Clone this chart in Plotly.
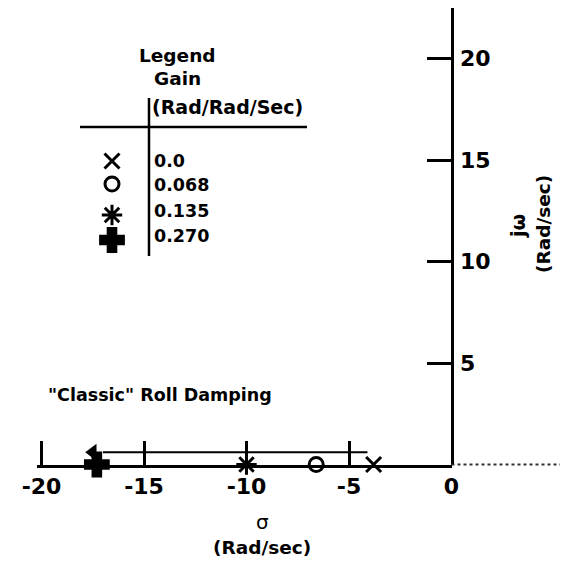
import plotly.graph_objects as go

W, H = 568, 562
OFF = 8  # page body margin of the browser

# ---- data ----
gains = [0.0, 0.068, 0.135, 0.270]
gain_labels = ["0.0", "0.068", "0.135", "0.270"]
root_sigma = [-3.8, -6.6, -10.0, -17.3]
root_jw = [0.0, 0.0, 0.0, 0.0]
root_symbols = ["x-thin-open", "circle-open", "asterisk-open", "cross"]
locus_sigma = [-17.0, -4.1]
locus_jw = [0.6, 0.6]
arrow_sigma = [-17.5]
arrow_jw = [0.6]
x_ticks = [-20, -15, -10, -5, 0]
x_ticktext = ["-20", "-15", "-10", "-5", "0"]
y_ticks = [5, 10, 15, 20]
y_ticktext = ["5", "10", "15", "20"]

FONT = "DejaVu Sans"

# screen-pixel helpers (layout only)
def px(x):
    return (x - OFF) / W

def py(y):
    return 1 - (y - OFF) / H

X0_PX, AX_Y_PX = 451.5, 464.5      # screen position of the origin
SX, SY = 20.5, 20.3                 # pixels per unit

def dx(p):
    return (p - X0_PX) / SX

def dy(p):
    return (AX_Y_PX - p) / SY

fig = go.Figure()

# locus path and arrow
fig.add_trace(go.Scatter(x=locus_sigma, y=locus_jw, mode="lines",
                         line=dict(color="black", width=2), cliponaxis=False,
                         showlegend=False, hoverinfo="skip"))
fig.add_trace(go.Scatter(x=arrow_sigma, y=arrow_jw, mode="markers",
                         marker=dict(symbol="triangle-left", size=15, color="black"),
                         cliponaxis=False, showlegend=False))

marker_sizes = [15, 14, 17, 19]
for s, j, sym, ms in zip(root_sigma, root_jw, root_symbols, marker_sizes):
    fig.add_trace(go.Scatter(
        x=[s], y=[j], mode="markers", cliponaxis=False, showlegend=False,
        marker=dict(symbol=sym, size=ms, color="black",
                    line=dict(color="black", width=3))))

# legend symbols
leg_x = 112
leg_rows_sym = [161, 184, 215, 240]
for sym, yy, ms in zip(root_symbols, leg_rows_sym, marker_sizes):
    fig.add_trace(go.Scatter(
        x=[dx(leg_x)], y=[dy(yy)], mode="markers",
        cliponaxis=False, showlegend=False,
        marker=dict(symbol=sym, size=ms, color="black",
                    line=dict(color="black", width=3))))

x_left_px, y_top_px = 37, OFF
fig.update_layout(
    width=W, height=H, autosize=False,
    margin=dict(l=0, r=0, t=0, b=0),
    paper_bgcolor="white", plot_bgcolor="white",
    font=dict(family=FONT, color="black"),
    xaxis=dict(
        domain=[px(x_left_px), px(X0_PX)],
        range=[dx(x_left_px), 0],
        anchor="y", automargin=False,
        showline=True, linecolor="black", linewidth=3,
        ticks="inside", ticklen=24, tickwidth=3, tickcolor="black",
        tickvals=x_ticks, ticktext=x_ticktext,
        tickfont=dict(family=FONT, size=22, weight="bold"),
        ticklabelstandoff=0,
        showgrid=False, zeroline=False),
    yaxis=dict(
        domain=[py(AX_Y_PX), py(y_top_px)],
        range=[0, dy(y_top_px)],
        anchor="free", position=px(X0_PX), side="right", automargin=False,
        showline=True, linecolor="black", linewidth=3,
        ticks="inside", ticklen=24, tickwidth=3, tickcolor="black",
        tickvals=y_ticks, ticktext=y_ticktext,
        tickfont=dict(family=FONT, size=22, weight="bold"),
        ticklabelstandoff=2,
        showgrid=False, zeroline=False),
)

ann = []
def text(x, y, t, size=18, xanchor="center", bold=True, angle=0):
    ann.append(dict(x=px(x), y=py(y), xref="paper", yref="paper", text=t,
                    showarrow=False, xanchor=xanchor, yanchor="middle",
                    textangle=angle,
                    font=dict(family=FONT, size=size, color="black",
                              weight="bold" if bold else "normal")))

text(177, 55, "Legend", 18.5)
text(177, 79, "Gain", 18.5)
text(150, 107, "(Rad/Rad/Sec)", 19, xanchor="left")
leg_rows_txt = [161, 185, 211, 236]
for lab, yy in zip(gain_labels, leg_rows_txt):
    text(152, yy, lab, 17.5, xanchor="left")

text(46, 395, '"Classic" Roll Damping', 17.5, xanchor="left")
text(262, 522, "σ", 20, bold=False)
text(262, 547, "(Rad/sec)", 18.5)
text(518, 226, "jω", 19, angle=-90)
text(543, 224, "(Rad/sec)", 18.5, angle=-90)
fig.update_layout(annotations=ann)

shapes = [
    # legend table rules
    dict(type="line", xref="paper", yref="paper", x0=px(80), x1=px(307),
         y0=py(127), y1=py(127), line=dict(color="black", width=2.5)),
    dict(type="line", xref="paper", yref="paper", x0=px(149), x1=px(149),
         y0=py(98), y1=py(256), line=dict(color="black", width=2.5)),
    # faint continuation of the real axis to the right of the origin
    dict(type="line", xref="paper", yref="paper", x0=px(X0_PX), x1=1,
         y0=py(AX_Y_PX), y1=py(AX_Y_PX),
         line=dict(color="#333333", width=2, dash="dot")),
]
fig.update_layout(shapes=shapes)

fig.write_html("out.html")
